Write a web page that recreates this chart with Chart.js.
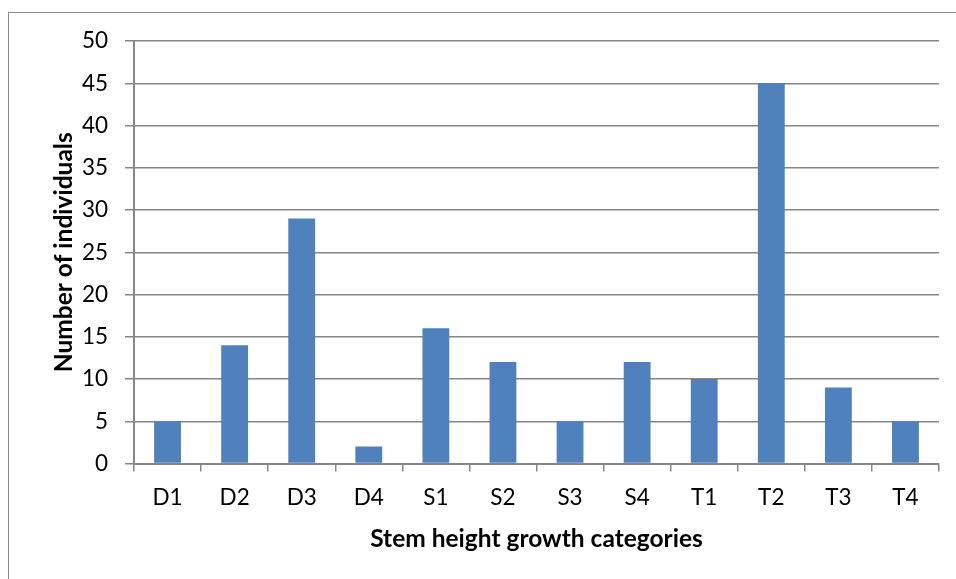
<!DOCTYPE html>
<html>
<head>
<meta charset="utf-8">
<script src="https://cdn.jsdelivr.net/npm/chart.js@4"></script>
<style>
  html, body { margin: 0; padding: 0; background: #ffffff; }
  #wrap { position: relative; width: 956px; height: 579px; overflow: hidden; }
  #frame { position: absolute; left: 8px; top: 12px; width: 1000px; height: 700px;
           border: 1.5px solid #8a8a8a; box-sizing: border-box; }
  canvas { position: absolute; left: 0; top: 0; }
</style>
</head>
<body>
<div id="wrap">
  <div id="frame"></div>
  <canvas id="chart" width="956" height="579"></canvas>
</div>
<script>
// Stem height growth categories and counts of individuals
const categories = ['D1', 'D2', 'D3', 'D4', 'S1', 'S2', 'S3', 'S4', 'T1', 'T2', 'T3', 'T4'];
const individuals = [5, 14, 29, 2, 16, 12, 5, 12, 10, 45, 9, 5];
const yMin = 0;
const yMax = 50;
const yStep = 5;

const axisGrey = '#868686';
const fontFamily = "Lato, 'Open Sans', sans-serif";

new Chart(document.getElementById('chart'), {
  type: 'bar',
  data: {
    labels: categories,
    datasets: [{
      data: individuals,
      backgroundColor: '#4F81BD',
      borderWidth: 0,
      barPercentage: 0.4,
      categoryPercentage: 1.0
    }]
  },
  options: {
    responsive: false,
    animation: false,
    devicePixelRatio: 1,
    layout: { padding: { left: 0, top: 41, right: 17, bottom: 0 } },
    plugins: { legend: { display: false }, tooltip: { enabled: false } },
    scales: {
      x: {
        grid: {
          display: true,
          drawOnChartArea: false,
          drawTicks: true,
          tickLength: 8,
          offset: true,
          color: axisGrey,
          lineWidth: 1.5
        },
        border: { display: true, color: axisGrey, width: 2 },
        ticks: { color: '#000000', font: { family: fontFamily, size: 22.5 }, padding: 13 },
        title: {
          display: true,
          text: 'Stem height growth categories',
          color: '#000000',
          font: { family: fontFamily, size: 24.5, weight: 'bold' },
          padding: { top: 8, bottom: 25 }
        },
        afterFit: (scale) => { scale.height = 579 - 463.5; }
      },
      y: {
        min: yMin,
        max: yMax,
        grid: {
          color: axisGrey,
          lineWidth: 1.5,
          drawTicks: true,
          tickLength: 9
        },
        border: { display: true, color: axisGrey, width: 2 },
        ticks: {
          stepSize: yStep,
          color: '#000000',
          font: { family: fontFamily, size: 22.5 },
          padding: 17
        },
        title: {
          display: true,
          text: 'Number of individuals',
          color: '#000000',
          font: { family: fontFamily, size: 24.5, weight: 'bold' },
          padding: { top: 49, bottom: 0 }
        },
        afterFit: (scale) => { scale.width = 134; }
      }
    }
  }
});
</script>
</body>
</html>
